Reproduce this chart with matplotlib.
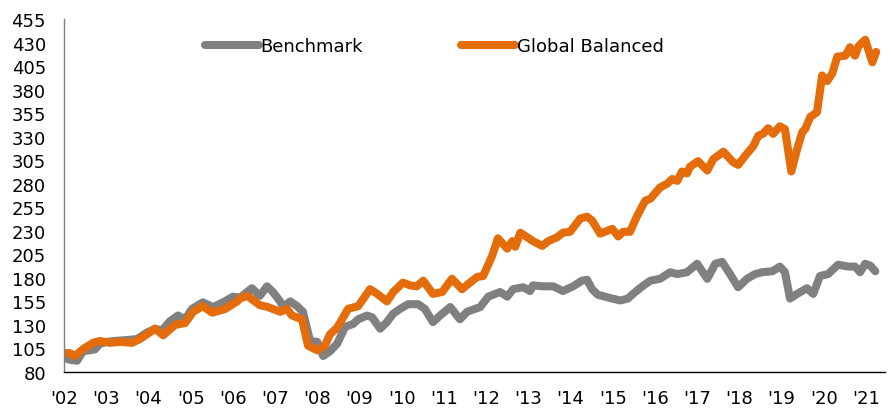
import matplotlib
matplotlib.use("Agg")
import matplotlib.pyplot as plt

# Global Balanced (orange)
gb_x = [2002.00, 2002.14, 2002.26, 2002.47, 2002.69, 2002.85, 2003.09, 2003.33, 2003.61, 2003.80,
        2004.16, 2004.35, 2004.63, 2004.87, 2005.06, 2005.29, 2005.51, 2005.82, 2006.10, 2006.17,
        2006.34, 2006.64, 2006.83, 2007.12, 2007.28, 2007.40, 2007.64, 2007.78, 2008.00, 2008.18,
        2008.30, 2008.47, 2008.73, 2008.97, 2009.25, 2009.42, 2009.65, 2009.80, 2010.03, 2010.20,
        2010.36, 2010.51, 2010.74, 2010.96, 2011.19, 2011.43, 2011.62, 2011.79, 2011.93, 2012.14,
        2012.28, 2012.50, 2012.62, 2012.69, 2012.81, 2013.11, 2013.33, 2013.47, 2013.68, 2013.82,
        2013.99, 2014.23, 2014.39, 2014.51, 2014.70, 2014.99, 2015.13, 2015.25, 2015.41, 2015.58,
        2015.77, 2015.89, 2016.12, 2016.29, 2016.41, 2016.53, 2016.64, 2016.76, 2016.83, 2017.02,
        2017.24, 2017.38, 2017.62, 2017.85, 2017.97, 2018.18, 2018.33, 2018.45, 2018.56, 2018.68,
        2018.80, 2018.96, 2019.08, 2019.23, 2019.37, 2019.49, 2019.56, 2019.68, 2019.84, 2019.96,
        2020.08, 2020.20, 2020.32, 2020.51, 2020.62, 2020.74, 2020.82, 2020.98, 2021.15, 2021.24]
gb_y = [100, 100, 97, 105, 111, 113, 111, 112, 111, 115,
        126, 119, 130, 132, 144, 150, 143, 147, 155, 158,
        161, 151, 149, 144, 147, 140, 136, 108, 103, 108,
        120, 127, 147, 150, 168, 163, 155, 165, 175, 172,
        171, 177, 163, 165, 179, 168, 175, 181, 182, 203,
        222, 211, 219, 213, 228, 219, 214, 219, 223, 228,
        229, 243, 245, 241, 227, 232, 224, 229, 229, 246,
        262, 264, 276, 280, 285, 283, 293, 291, 298, 304,
        294, 306, 314, 303, 300, 312, 320, 331, 333, 339,
        333, 341, 338, 293, 317, 335, 338, 351, 356, 395,
        389, 397, 415, 416, 425, 416, 426, 433, 409, 420]

# Benchmark (grey)
bm_x = [2002.00, 2002.14, 2002.31, 2002.45, 2002.73, 2002.85, 2003.02, 2003.21, 2003.49, 2003.73,
        2003.97, 2004.16, 2004.32, 2004.51, 2004.70, 2004.87, 2005.03, 2005.29, 2005.53, 2005.77,
        2006.00, 2006.17, 2006.45, 2006.64, 2006.81, 2006.95, 2007.12, 2007.19, 2007.36, 2007.52,
        2007.66, 2007.83, 2008.00, 2008.14, 2008.30, 2008.47, 2008.66, 2008.85, 2008.97, 2009.18,
        2009.30, 2009.49, 2009.65, 2009.80, 2009.96, 2010.15, 2010.39, 2010.55, 2010.74, 2010.91,
        2011.15, 2011.38, 2011.55, 2011.86, 2012.05, 2012.33, 2012.50, 2012.64, 2012.88, 2013.04,
        2013.11, 2013.35, 2013.59, 2013.82, 2014.06, 2014.27, 2014.39, 2014.51, 2014.65, 2014.82,
        2014.99, 2015.18, 2015.36, 2015.48, 2015.70, 2015.89, 2016.12, 2016.36, 2016.53, 2016.76,
        2017.00, 2017.24, 2017.43, 2017.59, 2017.78, 2017.97, 2018.18, 2018.37, 2018.54, 2018.78,
        2018.96, 2019.08, 2019.20, 2019.37, 2019.60, 2019.75, 2019.91, 2020.10, 2020.34, 2020.58,
        2020.74, 2020.86, 2020.98, 2021.10, 2021.22]
bm_y = [95, 93, 92, 102, 104, 110, 112, 113, 114, 115,
        122, 126, 124, 134, 140, 136, 147, 154, 149, 154,
        160, 159, 169, 161, 171, 165, 155, 149, 155, 150,
        144, 113, 112, 97, 102, 110, 128, 131, 136, 140,
        138, 126, 133, 142, 147, 152, 152, 147, 133, 140,
        149, 136, 144, 149, 160, 165, 160, 168, 170, 166,
        172, 171, 171, 166, 171, 177, 178, 168, 162, 160,
        158, 156, 158, 163, 171, 177, 179, 186, 184, 186,
        195, 179, 195, 197, 184, 170, 179, 184, 186, 187,
        192, 186, 158, 163, 169, 163, 182, 184, 194, 192,
        192, 186, 195, 193, 187]

years = list(range(2002, 2022))
year_labels = ["'" + str(y)[2:] for y in years]
y_ticks = list(range(80, 456, 25))

plt.rcParams["font.family"] = ["DejaVu Sans"]

fig = plt.figure(figsize=(8.91, 4.10), dpi=100)
ax = fig.add_axes([64 / 891, 1 - 373 / 410, (885 - 64) / 891, (373 - 20) / 410])

ax.plot(bm_x, bm_y, color="#808080", lw=5.8, solid_capstyle="round",
        solid_joinstyle="round", label="Benchmark")
ax.plot(gb_x, gb_y, color="#E46C0A", lw=5.8, solid_capstyle="round",
        solid_joinstyle="round", label="Global Balanced")

ax.set_xlim(2002, 2021.45)
ax.set_ylim(80, 455)
ax.set_xticks(years)
ax.set_xticklabels(year_labels)
ax.set_yticks(y_ticks)
ax.tick_params(length=0, labelsize=13, colors="#000000")
ax.tick_params(axis="x", pad=12)
ax.tick_params(axis="y", pad=13)

for s in ["top", "right"]:
    ax.spines[s].set_visible(False)
ax.spines["left"].set_color("#808080")
ax.spines["bottom"].set_color("#000000")
ax.spines["left"].set_linewidth(1)
ax.spines["bottom"].set_linewidth(1)

fig.legend(loc="center", bbox_to_anchor=(434 / 891, 1 - 47 / 410), ncol=2,
           frameon=False, fontsize=13, handlelength=3.0, handletextpad=0.1,
           columnspacing=5.4)

fig.savefig("out.png", dpi=100)
